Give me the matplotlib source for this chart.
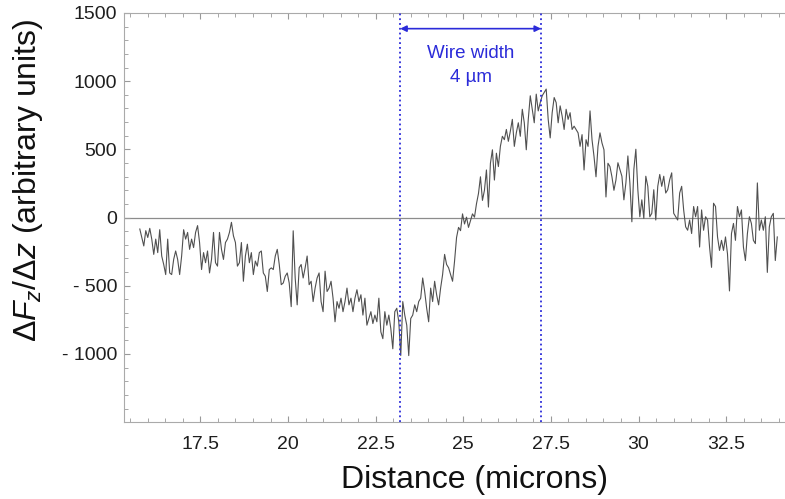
import numpy as np
import matplotlib
matplotlib.use("Agg")
import matplotlib.pyplot as plt
from matplotlib.ticker import FixedLocator, MultipleLocator, FuncFormatter

plt.rcParams['font.family'] = ['Liberation Sans', 'DejaVu Sans']
plt.rcParams['mathtext.fontset'] = 'custom'
plt.rcParams['mathtext.rm'] = 'Liberation Sans'
plt.rcParams['mathtext.it'] = 'Liberation Sans:italic'

# scan range (microns) and the signal, left to right
x_start, x_end = 15.77, 33.96
seg1 = [-84, -146, -208, -96, -146, -79, -158, -270, -158, -257,
        -89, -282, -344, -418, -158, -406, -418, -307, -245, -307,
        -418, -282, -89, -158, -109, -233, -158, -220, -109, -59,
        -183, -381, -257, -331, -245, -406, -307, -109, -331, -356,
        -109, -233, -307, -183, -158, -109, -35, -134, -183, -356,
        -331, -183, -467, -282, -195, -331, -257, -418, -319, -356,
        -257, -245, -406, -430, -542, -381, -369, -381, -282, -233,
        -344, -492, -480, -430, -406, -480, -653]
seg2 = [-97, -443, -640, -368, -344, -443, -368, -282, -492, -467,
        -616, -517, -443, -406, -616, -690, -393, -542, -517, -467,
        -591, -764, -616, -665, -591, -690, -616, -517, -640, -591,
        -690, -591, -529, -616, -566, -715, -591, -789, -740, -690,
        -777, -715, -764, -591, -838, -888, -690, -789, -715, -814,
        -962, -690, -665, -764, -1012, -616, -715, -789, -1012, -740,
        -715, -640, -690, -616, -591, -443, -542, -665, -764, -517,
        -616, -467, -566, -640, -517, -418, -270, -344, -368, -418,
        -467, -319]
seg3 = [-146, -72, -96, 27, -47, 3, -72, -22, 27, 3,
        101, 176, 299, 126, 200, 349, 77, 398, 497, 275,
        472, 374, 522, 596, 571, 646, 559, 633, 720, 522,
        621, 695, 596, 794, 695, 497, 720, 893, 794, 695,
        905, 782, 843, 893, 918, 942, 720, 584, 769, 880,
        843, 695, 819, 744, 646, 794, 720, 769, 646, 670,
        646, 621, 522, 608, 349, 571, 522, 782, 571, 448,
        299, 522, 621, 547, 497, 151, 398, 374, 299, 200,
        275]
seg4 = [402, 353, 303, 130, 254, 452, 254, -31, 353, 501,
        204, 6, 130, -6, 303, 229, 6, 31, 204, -18,
        229, 316, 229, 303, 180, 204, 278, 328, 31, 6,
        -18, 180, 229, 56, -68, -93, -18, -117, 81, 6,
        81, -216, 56, -93, 6, -18, -216, -365, 105, 81,
        -142, -241, -167, -241, -142, -266, -538, -117, -43, -167,
        81, 6, 56, -216, -315, -117, 6, -43, -167, -191,
        254, -93, -18, -93, 6, -402, -68, 6, 31, -315,
        -142]

wire_left, wire_right = 23.2, 27.22
x_ticks = [17.5, 20, 22.5, 25, 27.5, 30, 32.5]
y_ticks = [-1000, -500, 0, 500, 1000, 1500]

signal = np.array(seg1 + seg2 + seg3 + seg4, dtype=float)
dist = np.linspace(x_start, x_end, len(signal))

blue = '#2b2bd9'

fig = plt.figure(figsize=(7.85, 4.99), dpi=100)
ax = fig.add_axes([0.158, 0.154, 0.842, 0.820])

ax.axhline(0, color='#8c8c8c', lw=0.9, zorder=1)
ax.plot(dist, signal, color='#505050', lw=0.8, zorder=2)

ax.axvline(wire_left, color=blue, ls=':', lw=1.3, zorder=3)
ax.axvline(wire_right, color=blue, ls=':', lw=1.3, zorder=3)
ax.annotate('', xy=(wire_left, 1385), xytext=(wire_right, 1385),
            arrowprops=dict(arrowstyle='<|-|>', color=blue, lw=1.2,
                            mutation_scale=9, shrinkA=0, shrinkB=0))
mid = (wire_left + wire_right) / 2
ax.text(mid, 1200, 'Wire width', color=blue, fontsize=13.5, ha='center', va='center')
ax.text(mid, 1030, '4 \u00b5m', color=blue, fontsize=13.5, ha='center', va='center')

ax.set_xlim(15.32, 34.18)
ax.set_ylim(-1500, 1500)

ax.xaxis.set_major_locator(FixedLocator(x_ticks))
ax.xaxis.set_minor_locator(MultipleLocator(0.5))
ax.xaxis.set_major_formatter(FuncFormatter(lambda v, p: f'{v:g}'))
ax.yaxis.set_major_locator(FixedLocator(y_ticks))
ax.yaxis.set_minor_locator(MultipleLocator(100))
ax.yaxis.set_major_formatter(FuncFormatter(
    lambda v, p: f'- {int(-v)}' if v < 0 else f'{int(v)}'))

ax.tick_params(which='both', direction='in', color='#999999', top=True, right=False,
               labelcolor='#1e1e1e', labelsize=14)
ax.tick_params(which='major', length=4)
ax.tick_params(which='minor', length=3)
ax.tick_params(axis='x', pad=10)
ax.tick_params(axis='y', pad=5)

for side in ['left', 'bottom', 'top']:
    ax.spines[side].set_color('#aaaaaa')
    ax.spines[side].set_linewidth(0.8)
ax.spines['right'].set_visible(False)

ax.set_xlabel('Distance (microns)', fontsize=23, color='#111111')
ax.xaxis.set_label_coords(0.53, -0.142)
ax.xaxis.label.set_va('center')
ax.set_ylabel('$\\mathit{\u0394F_z/\u0394z}$ (arbitrary units)', fontsize=23, color='#111111')
ax.yaxis.set_label_coords(-0.145, 0.59)
ax.yaxis.label.set_va('center')

fig.savefig('out.png', dpi=100)
